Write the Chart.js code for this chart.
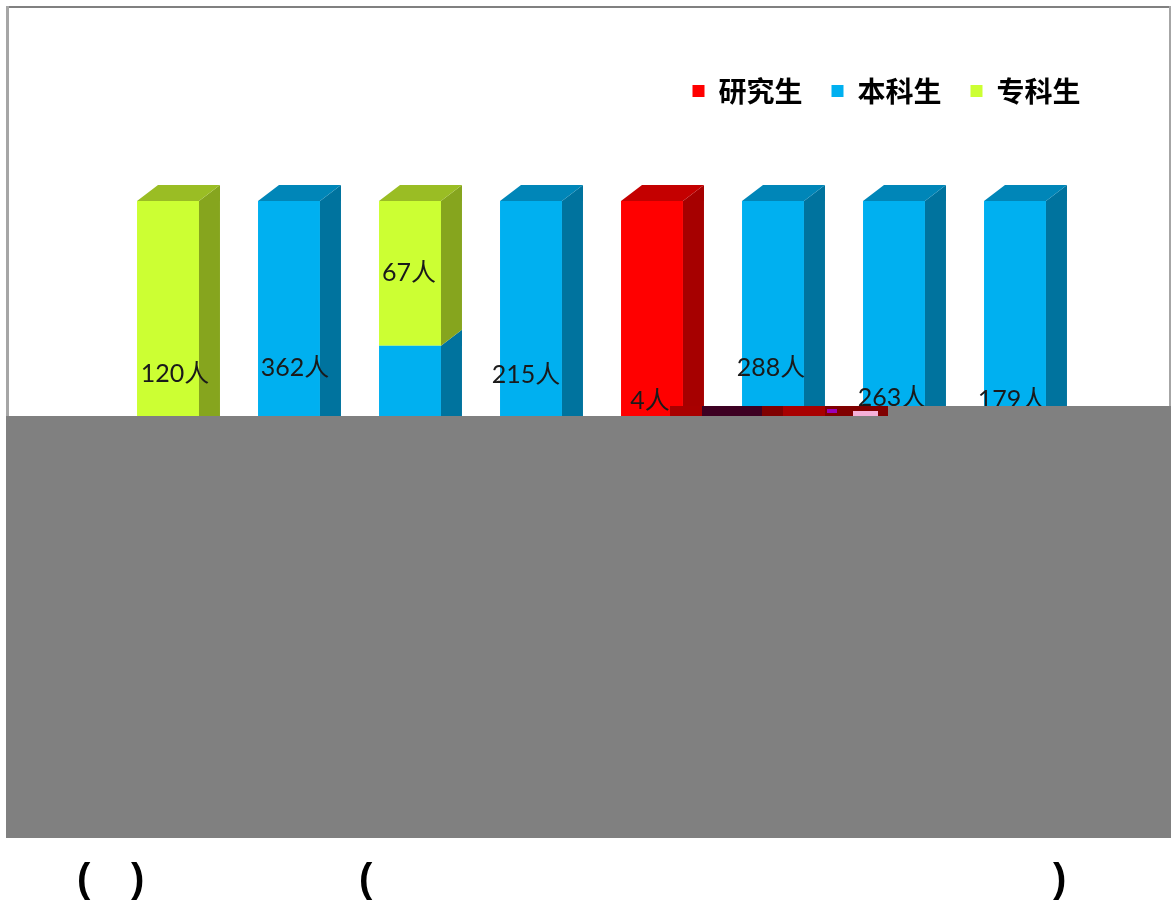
<!DOCTYPE html>
<html>
<head>
<meta charset="utf-8">
<script src="https://cdn.jsdelivr.net/npm/chart.js@4"></script>
<style>
  html, body { margin: 0; padding: 0; background: #fff; overflow: hidden; }
  #wrap { position: relative; width: 1171px; height: 906px; }
  #chart { position: absolute; left: 0; top: 0; }
  .frameTop { position: absolute; left: 6px; top: 6px; width: 1165px; height: 2px; background: #808080; }
  .frameLeft { position: absolute; left: 6px; top: 6px; width: 3px; height: 410px; background: #a6a6a6; }
  .frameRight { position: absolute; left: 1169px; top: 6px; width: 2px; height: 400px; background: #a6a6a6; }
  .gray { position: absolute; background: #808080; }
  .bit { position: absolute; top: 406px; height: 10px; }
  .paren { position: absolute; top: 850px; font: bold 40px "Liberation Sans", sans-serif; color: #000; line-height: 56px; }
</style>
</head>
<body>
<div id="wrap">
  <canvas id="chart" width="1171" height="906"></canvas>
  <div class="frameTop"></div>
  <div class="frameLeft"></div>
  <div class="frameRight"></div>
  <div class="gray" style="left:6px;top:416px;width:1165px;height:422px"></div>
  <div class="gray" style="left:888px;top:406px;width:283px;height:10px"></div>
  <div class="bit" style="left:670px;width:32px;background:#a80000"></div>
  <div class="bit" style="left:702px;width:60px;background:#3d0022"></div>
  <div class="bit" style="left:762px;width:21px;background:#800000"></div>
  <div class="bit" style="left:783px;width:42px;background:#a80000"></div>
  <div class="bit" style="left:825px;width:63px;background:#800000"></div>
  <div class="bit" style="left:827px;width:10px;top:409px;height:4px;background:#9a00b8"></div>
  <div class="bit" style="left:853px;width:25px;top:411px;height:5px;background:#f6b0d8"></div>
  <span class="paren" style="left:77px">(</span>
  <span class="paren" style="left:131px">)</span>
  <span class="paren" style="left:359px">(</span>
  <span class="paren" style="left:1053px">)</span>
</div>
<script>
const categories = ['1', '2', '3', '4', '5', '6', '7', '8'];
// share of each bar (every bar is stacked to full height)
const research = [0, 0, 0, 0, 100, 0, 0, 0];
const undergrad = [0, 100, 58, 100, 0, 100, 100, 100];
const college = [100, 0, 42, 0, 0, 0, 0, 0];
// headcount labels printed on the bars
const valueLabels = ['120人', '362人', '67人', '215人', '4人', '288人', '263人', '179人'];

const faces = {
    '#ff0000': { side: '#a60000', top: '#c40000' },
    '#00b0f0': { side: '#00739e', top: '#0086b8' },
    '#ccff33': { side: '#86a51e', top: '#9abd24' }
};

// side and top faces of the fake 3D columns
const depthPlugin = {
    id: 'depth',
    afterDatasetsDraw(chart) {
        const c = chart.ctx;
        const dx = 21, dy = 16;
        const topY = chart.scales.y.getPixelForValue(100);
        chart.data.datasets.forEach((ds, i) => {
            chart.getDatasetMeta(i).data.forEach((bar, j) => {
                if (!ds.data[j]) return;
                const left = bar.x - bar.width / 2;
                const right = bar.x + bar.width / 2;
                const f = faces[ds.backgroundColor];
                c.fillStyle = f.side;
                c.beginPath();
                c.moveTo(right, bar.y);
                c.lineTo(right + dx, bar.y - dy);
                c.lineTo(right + dx, bar.base - dy);
                c.lineTo(right, bar.base);
                c.closePath();
                c.fill();
                if (Math.abs(bar.y - topY) > 1) return;
                c.fillStyle = f.top;
                c.beginPath();
                c.moveTo(left, bar.y);
                c.lineTo(left + dx, bar.y - dy);
                c.lineTo(right + dx, bar.y - dy);
                c.lineTo(right, bar.y);
                c.closePath();
                c.fill();
            });
        });
    }
};

// labels were placed by hand on the original, so they sit off centre
const labelPlugin = {
    id: 'valueLabels',
    afterDraw(chart) {
        const c = chart.ctx;
        const y = chart.scales.y;
        const x = chart.scales.x;
        const shiftX = [7, 6, -1, -5, -2, -2, -2, -3];
        const atValue = [50, 51.5, 79, 49.5, 42, 51.7, 42.8, 42.2];
        c.save();
        c.font = '25px Lato, "Noto Sans CJK SC"';
        c.fillStyle = '#1a1a1a';
        c.textAlign = 'center';
        c.textBaseline = 'middle';
        valueLabels.forEach((t, i) => {
            c.fillText(t, x.getPixelForValue(i) + shiftX[i], y.getPixelForValue(atValue[i]));
        });
        c.restore();
    }
};

// legend sits further right than the plot's right edge
const legendShift = {
    id: 'legendShift',
    afterLayout(chart) {
        chart.legend.left += 34;
        chart.legend.right += 34;
    }
};

new Chart(document.getElementById('chart'), {
    type: 'bar',
    data: {
        labels: categories,
        datasets: [
            { label: '研究生', data: research, backgroundColor: '#ff0000' },
            { label: '本科生', data: undergrad, backgroundColor: '#00b0f0' },
            { label: '专科生', data: college, backgroundColor: '#ccff33' }
        ]
    },
    options: {
        responsive: false,
        animation: false,
        barPercentage: 1,
        categoryPercentage: 0.512,
        layout: { padding: { left: 107.5, right: 95.5, top: 48, bottom: 360 } },
        plugins: {
            tooltip: { enabled: false },
            legend: {
                position: 'top',
                align: 'end',
                labels: {
                    boxWidth: 12,
                    boxHeight: 12,
                    padding: 29,
                    color: '#000',
                    font: { size: 28, weight: 'bold', family: '"Noto Sans CJK SC"' }
                }
            }
        },
        scales: {
            x: { stacked: true, display: false },
            y: { stacked: true, display: false, min: 0, max: 124.9 }
        }
    },
    plugins: [depthPlugin, labelPlugin, legendShift]
});
</script>
</body>
</html>
